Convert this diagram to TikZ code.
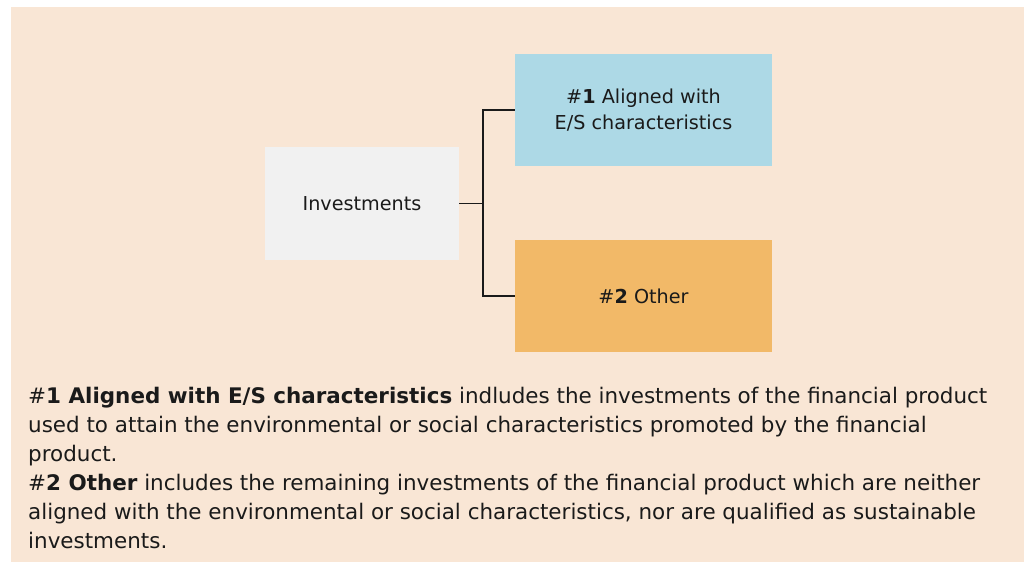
\documentclass[tikz,border=0pt]{standalone}
\usepackage{fontspec}
\setmainfont{DejaVu Sans}
\usetikzlibrary{positioning}
\definecolor{peach}{RGB}{249,230,213}
\definecolor{alignedblue}{RGB}{173,217,230}
\definecolor{otherorange}{RGB}{242,185,104}
\definecolor{invgray}{RGB}{241,241,241}
\definecolor{ink}{RGB}{26,26,26}
\begin{document}
\begin{tikzpicture}[x=1pt,y=-1pt,
	invbox/.style={fill=invgray,minimum width=194pt,minimum height=113pt,inner sep=0pt,align=center,text=ink,font=\fontsize{19.2}{26}\selectfont},
	catbox/.style={minimum width=257pt,minimum height=112pt,inner sep=0pt,align=center,text=ink,font=\fontsize{19.2}{26}\selectfont},
	link/.style={-,line width=1.5pt,color=ink}]
	\useasboundingbox (0,0) rectangle (1024,562);
	\fill[peach] (11,7) rectangle (1024,562);

	\node[invbox] (inv) at (362,203.5) {Investments};
	\node[catbox,fill=alignedblue] (cat1) at (643.5,110) {\#\textbf{1} Aligned with\\E/S characteristics};
	\node[catbox,fill=otherorange] (cat2) at (643.5,296) {\#\textbf{2} Other};

	\coordinate (fork) at (483,203.5);
	\draw[link] (inv.east) -- (fork);
	\draw[link] (fork) |- (cat1.west);
	\draw[link] (fork) |- (cat2.west);

	\node[anchor=north west,inner sep=0pt,align=left,text=ink,font=\fontsize{21.45}{29}\selectfont] (notes) at (28,387)
	{\#\textbf{1 Aligned with E/S characteristics} indludes the investments of the financial product\\
	used to attain the environmental or social characteristics promoted by the financial\\
	product.\\
	\#\textbf{2 Other} includes the remaining investments of the financial product which are neither\\
	aligned with the environmental or social characteristics, nor are qualified as sustainable\\
	investments.};
\end{tikzpicture}
\end{document}
